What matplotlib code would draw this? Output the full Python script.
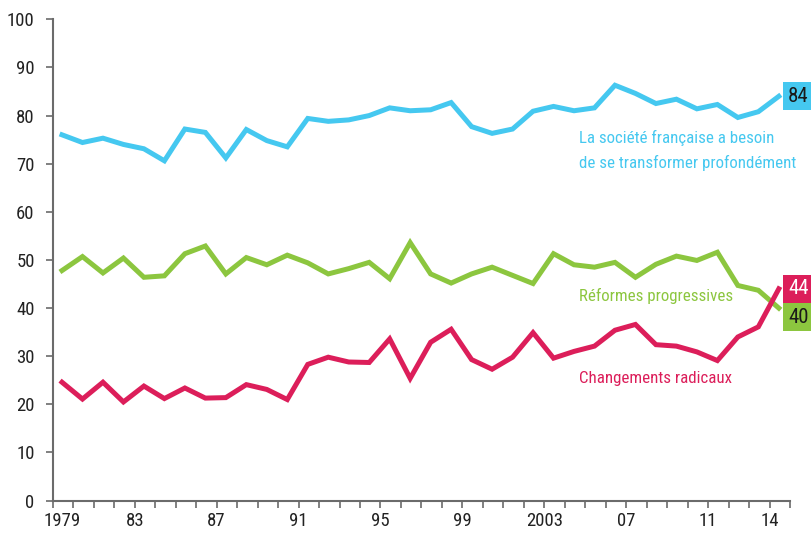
import matplotlib.pyplot as plt
from matplotlib import font_manager
from matplotlib.font_manager import FontProperties

years = list(range(1979, 2015))

transformer = [76.0, 74.4, 75.3, 74.0, 73.1, 70.6, 77.2, 76.5, 71.2, 77.1,
               74.8, 73.5, 79.4, 78.8, 79.1, 80.0, 81.6, 81.0, 81.2, 82.7,
               77.7, 76.3, 77.2, 80.9, 81.9, 81.0, 81.6, 86.3, 84.6, 82.5,
               83.4, 81.4, 82.3, 79.6, 80.8, 84.0]
reformes = [47.8, 50.7, 47.3, 50.4, 46.4, 46.7, 51.3, 52.9, 47.1, 50.5,
            49.0, 51.0, 49.4, 47.1, 48.2, 49.5, 46.1, 53.6, 47.1, 45.2,
            47.1, 48.5, 46.8, 45.1, 51.3, 49.0, 48.5, 49.5, 46.4, 49.1,
            50.8, 49.9, 51.6, 44.7, 43.7, 40.0]
radicaux = [24.6, 21.1, 24.6, 20.5, 23.8, 21.2, 23.4, 21.3, 21.4, 24.1,
            23.1, 21.0, 28.3, 29.8, 28.8, 28.7, 33.6, 25.4, 32.9, 35.6,
            29.3, 27.3, 29.8, 34.9, 29.6, 31.0, 32.1, 35.4, 36.6, 32.4,
            32.1, 30.9, 29.1, 34.0, 36.1, 44.0]

labelled_years = [1979, 1983, 1987, 1991, 1995, 1999, 2003, 2007, 2011, 2014]
year_labels = ["1979", "83", "87", "91", "95", "99", "2003", "07", "11", "14"]

blue = "#45c8f0"
green = "#8cc63f"
pink = "#dc1e5a"
axis_grey = "#6b6b6b"


def pick_narrow_font():
    # look for a condensed face, the reference uses a narrow sans
    entries = font_manager.fontManager.ttflist
    for wanted in ["Liberation Sans Narrow", "Roboto Condensed", "Open Sans Condensed"]:
        for f in entries:
            if f.name == wanted and f.weight in (400, "normal", "regular") and f.style == "normal":
                return f.fname
    for f in entries:
        if f.name == "DejaVu Sans" and f.stretch == "condensed" and f.style == "normal" \
                and f.weight in (400, "normal", "regular"):
            return f.fname
    for f in entries:
        if "Condensed" in f.fname and "Bold" not in f.fname and "Oblique" not in f.fname:
            return f.fname
    return None


path = pick_narrow_font()
if path:
    fp = FontProperties(fname=path)
else:
    fp = FontProperties(family="DejaVu Sans", stretch="condensed")

fig = plt.figure(figsize=(8.12, 5.36), dpi=100)
ax = fig.add_axes([0.065, 0.066, 0.908, 0.898])

off = 0.45  # points sit a little right of their tick
ax.plot(years, transformer, color=blue, lw=3.6, solid_joinstyle="miter")
ax.plot(years, reformes, color=green, lw=3.6, solid_joinstyle="miter")
ax.plot(years, radicaux, color=pink, lw=3.6, solid_joinstyle="miter")

ax.set_xlim(years[0] - off, years[-1] + 1 - off)
ax.set_ylim(0, 100)

ax.set_xticks([y - off for y in years + [years[-1] + 1]])
ax.set_xticklabels([])
ax.set_yticks(range(0, 101, 10))
ax.set_yticklabels([str(v) for v in range(0, 101, 10)])
for lab in ax.get_yticklabels():
    lab.set_fontproperties(fp)
    lab.set_fontsize(13.5)
    lab.set_color("#222222")
for y, lab in zip(labelled_years, year_labels):
    xpos = y if y == 1979 else y - off
    ax.text(xpos, -2.3, lab, ha="center", va="top", fontproperties=fp, fontsize=13.5, color="#222222")

for side in ["top", "right"]:
    ax.spines[side].set_visible(False)
for side in ["left", "bottom"]:
    ax.spines[side].set_color(axis_grey)
    ax.spines[side].set_linewidth(1.5)
ax.tick_params(axis="both", direction="out", length=5, width=1.2, color=axis_grey)
ax.tick_params(axis="y", pad=8)

txt = dict(fontproperties=fp, fontsize=12.2, va="center")
ax.text(2004.25, 75.4, "La société française a besoin", color=blue, **txt)
ax.text(2004.25, 70.2, "de se transformer profondément", color=blue, **txt)
ax.text(2004.25, 42.6, "Réformes progressives", color=green, **txt)
ax.text(2004.25, 25.4, "Changements radicaux", color=pink, **txt)

ends = [(transformer, blue, "#1a1a1a", 0), (radicaux, pink, "white", 0), (reformes, green, "#1a1a1a", -6.5)]
for series, bg, fg, dy in ends:
    ax.annotate(f"{series[-1]:.0f}", xy=(years[-1], series[-1]), xytext=(14, dy),
                textcoords="offset points", ha="center", va="center", fontproperties=fp,
                fontsize=15, color=fg,
                bbox=dict(boxstyle="square,pad=0.22", fc=bg, ec="none"))

fig.savefig("out.png", dpi=100)
